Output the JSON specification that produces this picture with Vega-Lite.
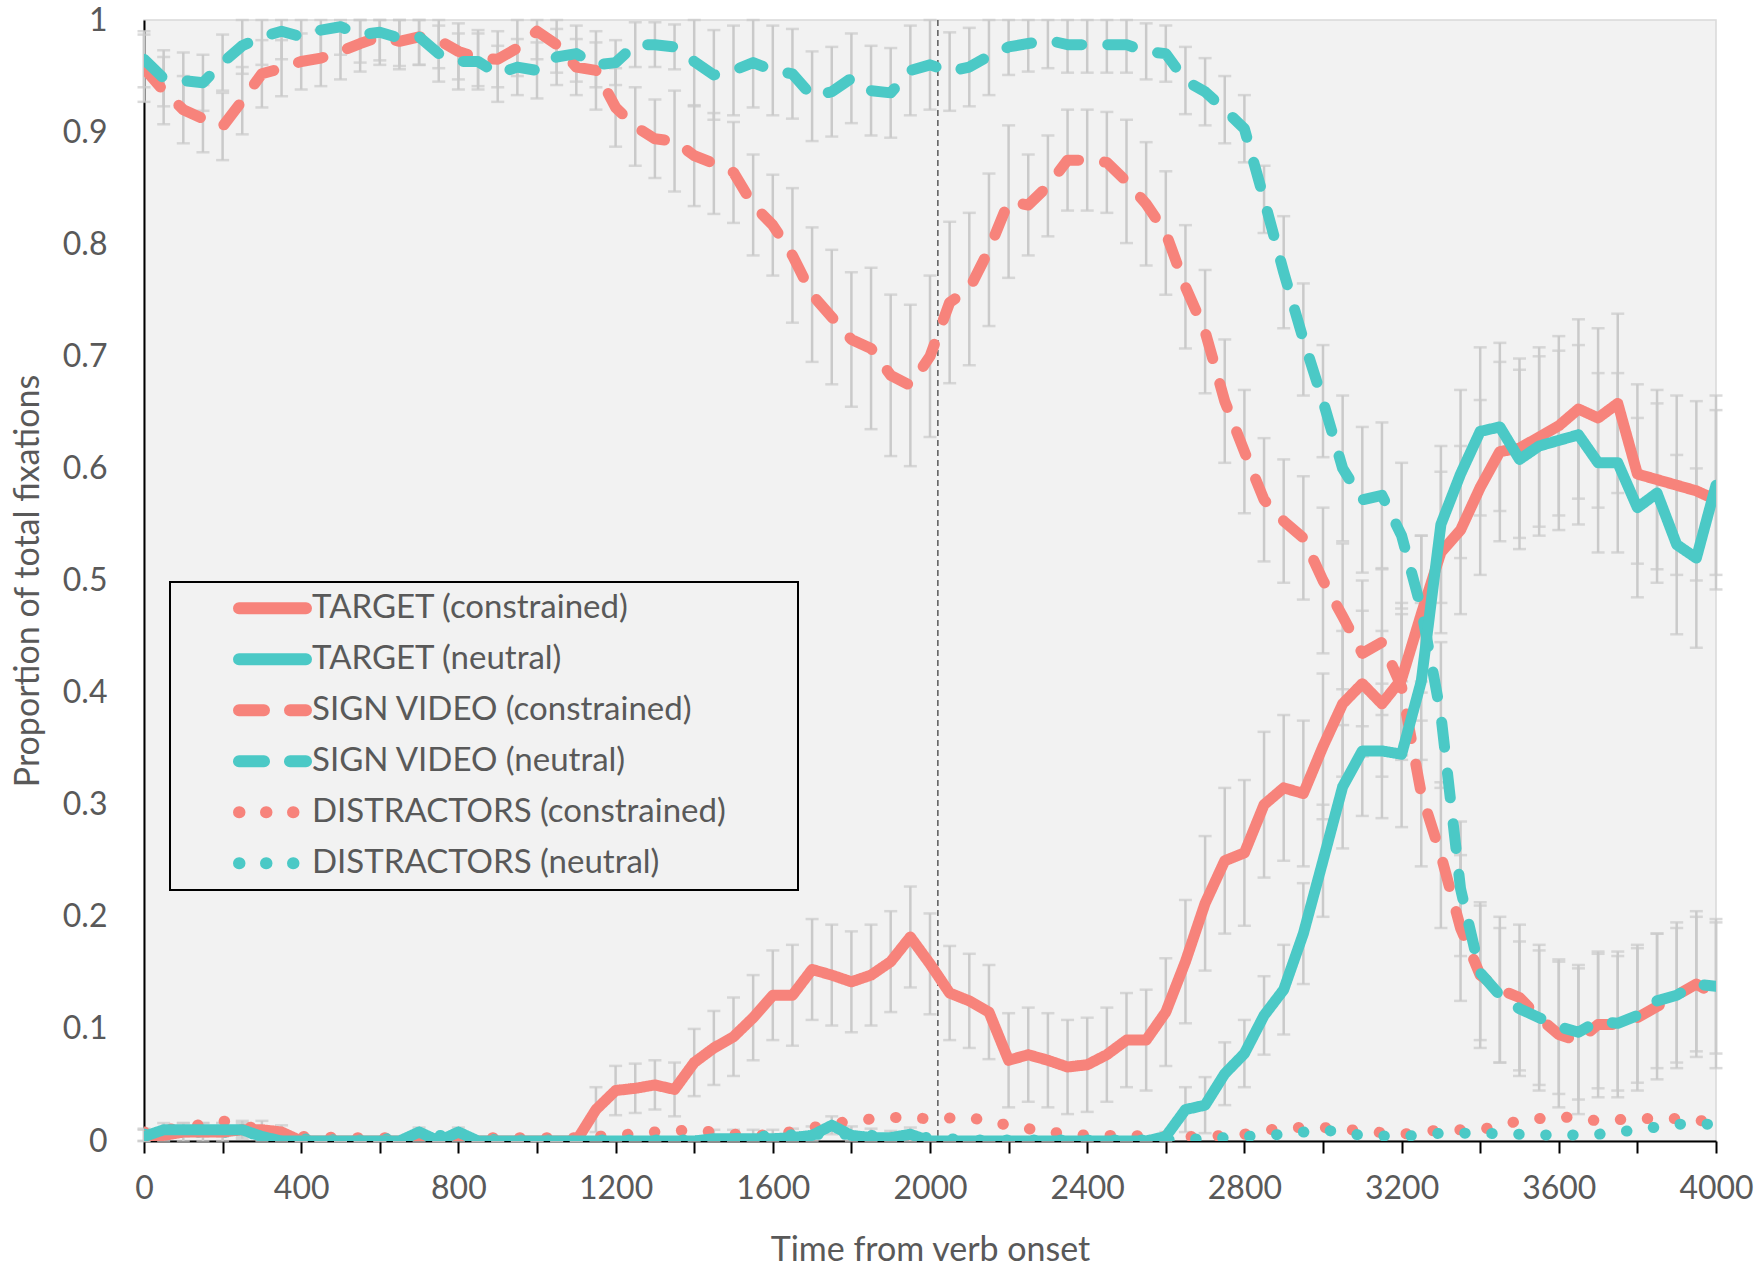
{
  "$schema": "https://vega.github.io/schema/vega-lite/v6.json",
  "autosize": {"type": "none"},
  "padding": {"left": 144, "top": 20, "right": 43, "bottom": 127},
  "width": 1572,
  "height": 1121,
  "background": "white",
  "config": {
    "font": "Lato",
    "view": {"fill": "#F2F2F2", "stroke": "#D9D9D9", "strokeWidth": 1.5},
    "axis": {"grid": false, "labelFontSize": 32, "labelColor": "#595959", "titleFontSize": 34, "titleColor": "#595959", "titleFontWeight": "normal", "domainColor": "black", "domainWidth": 2, "tickColor": "black", "tickWidth": 2},
    "legend": {
      "orient": "none", "legendX": 26, "legendY": 562,
      "titleOrient": "right", "titlePadding": 71, "titleFontSize": 32,
      "symbolType": "stroke", "symbolSize": 4489, "symbolStrokeWidth": 12, "symbolOffset": 62,
      "labelOffset": 0, "labelFontSize": 33, "labelFont": "Lato", "labelColor": "#595959", "labelLimit": 0,
      "clipHeight": 50.5, "rowPadding": 0, "padding": 1,
      "strokeColor": "black", "strokeWidth": 2, "fillColor": "#F2F2F2"
    }
  },
  "datasets": {
    "m": [{"t": 2020}],
    "d": [
{"t":0,"s":"dc","v":0.008},{"t":100,"s":"dc","v":0.012},{"t":200,"s":"dc","v":0.018},{"t":300,"s":"dc","v":0.01},{"t":400,"s":"dc","v":0.004},{"t":500,"s":"dc","v":0.003},{"t":600,"s":"dc","v":0.003},{"t":700,"s":"dc","v":0.003},{"t":800,"s":"dc","v":0.003},{"t":900,"s":"dc","v":0.003},{"t":1000,"s":"dc","v":0.003},{"t":1100,"s":"dc","v":0.003},{"t":1200,"s":"dc","v":0.005},{"t":1300,"s":"dc","v":0.008},{"t":1400,"s":"dc","v":0.01},{"t":1500,"s":"dc","v":0.006},{"t":1600,"s":"dc","v":0.005},{"t":1700,"s":"dc","v":0.012},{"t":1800,"s":"dc","v":0.018},{"t":1900,"s":"dc","v":0.021},{"t":2000,"s":"dc","v":0.02},{"t":2100,"s":"dc","v":0.021},{"t":2200,"s":"dc","v":0.014},{"t":2300,"s":"dc","v":0.008},{"t":2400,"s":"dc","v":0.005},{"t":2500,"s":"dc","v":0.005},{"t":2600,"s":"dc","v":0.004},{"t":2700,"s":"dc","v":0.004},{"t":2800,"s":"dc","v":0.006},{"t":2900,"s":"dc","v":0.012},{"t":3000,"s":"dc","v":0.012},{"t":3100,"s":"dc","v":0.009},{"t":3200,"s":"dc","v":0.006},{"t":3300,"s":"dc","v":0.01},{"t":3400,"s":"dc","v":0.01},{"t":3500,"s":"dc","v":0.018},{"t":3600,"s":"dc","v":0.022},{"t":3700,"s":"dc","v":0.018},{"t":3800,"s":"dc","v":0.02},{"t":3900,"s":"dc","v":0.02},{"t":4000,"s":"dc","v":0.017},
{"t":0,"s":"dn","v":0.006},{"t":100,"s":"dn","v":0.008},{"t":200,"s":"dn","v":0.008},{"t":300,"s":"dn","v":0.006},{"t":400,"s":"dn","v":0.002},{"t":500,"s":"dn","v":0.001},{"t":600,"s":"dn","v":0.001},{"t":700,"s":"dn","v":0.006},{"t":800,"s":"dn","v":0.004},{"t":900,"s":"dn","v":0.001},{"t":1000,"s":"dn","v":0.001},{"t":1100,"s":"dn","v":0.001},{"t":1200,"s":"dn","v":0.001},{"t":1300,"s":"dn","v":0.001},{"t":1400,"s":"dn","v":0.001},{"t":1500,"s":"dn","v":0.002},{"t":1600,"s":"dn","v":0.005},{"t":1700,"s":"dn","v":0.006},{"t":1800,"s":"dn","v":0.006},{"t":1900,"s":"dn","v":0.004},{"t":2000,"s":"dn","v":0.003},{"t":2100,"s":"dn","v":0.001},{"t":2200,"s":"dn","v":0.001},{"t":2300,"s":"dn","v":0.001},{"t":2400,"s":"dn","v":0.001},{"t":2500,"s":"dn","v":0.001},{"t":2600,"s":"dn","v":0.001},{"t":2700,"s":"dn","v":0.002},{"t":2800,"s":"dn","v":0.004},{"t":2900,"s":"dn","v":0.006},{"t":3000,"s":"dn","v":0.01},{"t":3100,"s":"dn","v":0.005},{"t":3200,"s":"dn","v":0.004},{"t":3300,"s":"dn","v":0.007},{"t":3400,"s":"dn","v":0.007},{"t":3500,"s":"dn","v":0.006},{"t":3600,"s":"dn","v":0.005},{"t":3700,"s":"dn","v":0.006},{"t":3800,"s":"dn","v":0.01},{"t":3900,"s":"dn","v":0.015},{"t":4000,"s":"dn","v":0.015},
{"t":0,"s":"sc","v":0.957,"e":0.03},{"t":50,"s":"sc","v":0.937,"e":0.03},{"t":100,"s":"sc","v":0.92,"e":0.03},{"t":150,"s":"sc","v":0.912,"e":0.03},{"t":200,"s":"sc","v":0.905,"e":0.03},{"t":250,"s":"sc","v":0.928,"e":0.03},{"t":300,"s":"sc","v":0.952,"e":0.03},{"t":350,"s":"sc","v":0.957,"e":0.025},{"t":400,"s":"sc","v":0.963,"e":0.025},{"t":450,"s":"sc","v":0.966,"e":0.025},{"t":500,"s":"sc","v":0.972,"e":0.025},{"t":550,"s":"sc","v":0.979,"e":0.025},{"t":600,"s":"sc","v":0.985,"e":0.025},{"t":650,"s":"sc","v":0.981,"e":0.025},{"t":700,"s":"sc","v":0.985,"e":0.025},{"t":750,"s":"sc","v":0.982,"e":0.025},{"t":800,"s":"sc","v":0.972,"e":0.025},{"t":850,"s":"sc","v":0.966,"e":0.025},{"t":900,"s":"sc","v":0.965,"e":0.025},{"t":950,"s":"sc","v":0.975,"e":0.025},{"t":1000,"s":"sc","v":0.99,"e":0.025},{"t":1050,"s":"sc","v":0.978,"e":0.025},{"t":1100,"s":"sc","v":0.958,"e":0.025},{"t":1150,"s":"sc","v":0.955,"e":0.035},{"t":1200,"s":"sc","v":0.922,"e":0.035},{"t":1250,"s":"sc","v":0.905,"e":0.035},{"t":1300,"s":"sc","v":0.894,"e":0.035},{"t":1350,"s":"sc","v":0.892,"e":0.045},{"t":1400,"s":"sc","v":0.879,"e":0.045},{"t":1450,"s":"sc","v":0.872,"e":0.045},{"t":1500,"s":"sc","v":0.864,"e":0.045},{"t":1550,"s":"sc","v":0.835,"e":0.045},{"t":1600,"s":"sc","v":0.817,"e":0.045},{"t":1650,"s":"sc","v":0.79,"e":0.06},{"t":1700,"s":"sc","v":0.755,"e":0.06},{"t":1750,"s":"sc","v":0.735,"e":0.06},{"t":1800,"s":"sc","v":0.715,"e":0.06},{"t":1850,"s":"sc","v":0.707,"e":0.072},{"t":1900,"s":"sc","v":0.683,"e":0.072},{"t":1950,"s":"sc","v":0.674,"e":0.072},{"t":2000,"s":"sc","v":0.7,"e":0.072},{"t":2050,"s":"sc","v":0.748,"e":0.072},{"t":2100,"s":"sc","v":0.76,"e":0.068},{"t":2150,"s":"sc","v":0.795,"e":0.068},{"t":2200,"s":"sc","v":0.838,"e":0.068},{"t":2250,"s":"sc","v":0.835,"e":0.045},{"t":2300,"s":"sc","v":0.852,"e":0.045},{"t":2350,"s":"sc","v":0.875,"e":0.045},{"t":2400,"s":"sc","v":0.875,"e":0.045},{"t":2450,"s":"sc","v":0.873,"e":0.045},{"t":2500,"s":"sc","v":0.856,"e":0.055},{"t":2550,"s":"sc","v":0.836,"e":0.055},{"t":2600,"s":"sc","v":0.81,"e":0.055},{"t":2650,"s":"sc","v":0.762,"e":0.055},{"t":2700,"s":"sc","v":0.722,"e":0.055},{"t":2750,"s":"sc","v":0.66,"e":0.055},{"t":2800,"s":"sc","v":0.615,"e":0.055},{"t":2850,"s":"sc","v":0.572,"e":0.055},{"t":2900,"s":"sc","v":0.553,"e":0.055},{"t":2950,"s":"sc","v":0.538,"e":0.055},{"t":3000,"s":"sc","v":0.5,"e":0.065},{"t":3050,"s":"sc","v":0.468,"e":0.065},{"t":3100,"s":"sc","v":0.435,"e":0.065},{"t":3150,"s":"sc","v":0.445,"e":0.065},{"t":3200,"s":"sc","v":0.405,"e":0.065},{"t":3250,"s":"sc","v":0.31,"e":0.065},{"t":3300,"s":"sc","v":0.255,"e":0.065},{"t":3350,"s":"sc","v":0.19,"e":0.065},{"t":3400,"s":"sc","v":0.148,"e":0.065},{"t":3450,"s":"sc","v":0.135,"e":0.065},{"t":3500,"s":"sc","v":0.128,"e":0.065},{"t":3550,"s":"sc","v":0.11,"e":0.065},{"t":3600,"s":"sc","v":0.095,"e":0.065},{"t":3650,"s":"sc","v":0.089,"e":0.065},{"t":3700,"s":"sc","v":0.104,"e":0.065},{"t":3750,"s":"sc","v":0.104,"e":0.065},{"t":3800,"s":"sc","v":0.11,"e":0.065},{"t":3850,"s":"sc","v":0.12,"e":0.065},{"t":3900,"s":"sc","v":0.13,"e":0.065},{"t":3950,"s":"sc","v":0.14,"e":0.065},{"t":4000,"s":"sc","v":0.13,"e":0.065},
{"t":0,"s":"tc","v":0.005,"e":0.006},{"t":50,"s":"tc","v":0.005,"e":0.006},{"t":100,"s":"tc","v":0.008,"e":0.008},{"t":150,"s":"tc","v":0.008,"e":0.008},{"t":200,"s":"tc","v":0.008,"e":0.008},{"t":250,"s":"tc","v":0.01,"e":0.008},{"t":300,"s":"tc","v":0.01,"e":0.008},{"t":350,"s":"tc","v":0.008,"e":0.006},{"t":400,"s":"tc","v":0,"e":0.002},{"t":450,"s":"tc","v":0,"e":0.002},{"t":500,"s":"tc","v":0,"e":0.002},{"t":550,"s":"tc","v":0,"e":0.002},{"t":600,"s":"tc","v":0,"e":0.002},{"t":650,"s":"tc","v":0,"e":0.002},{"t":700,"s":"tc","v":0,"e":0.002},{"t":750,"s":"tc","v":0,"e":0.002},{"t":800,"s":"tc","v":0,"e":0.002},{"t":850,"s":"tc","v":0,"e":0.002},{"t":900,"s":"tc","v":0,"e":0.002},{"t":950,"s":"tc","v":0,"e":0.002},{"t":1000,"s":"tc","v":0,"e":0.002},{"t":1050,"s":"tc","v":0,"e":0.002},{"t":1100,"s":"tc","v":0,"e":0.004},{"t":1150,"s":"tc","v":0.028,"e":0.02},{"t":1200,"s":"tc","v":0.045,"e":0.022},{"t":1250,"s":"tc","v":0.047,"e":0.022},{"t":1300,"s":"tc","v":0.05,"e":0.022},{"t":1350,"s":"tc","v":0.046,"e":0.024},{"t":1400,"s":"tc","v":0.07,"e":0.03},{"t":1450,"s":"tc","v":0.083,"e":0.033},{"t":1500,"s":"tc","v":0.093,"e":0.035},{"t":1550,"s":"tc","v":0.11,"e":0.038},{"t":1600,"s":"tc","v":0.13,"e":0.04},{"t":1650,"s":"tc","v":0.13,"e":0.045},{"t":1700,"s":"tc","v":0.153,"e":0.045},{"t":1750,"s":"tc","v":0.148,"e":0.045},{"t":1800,"s":"tc","v":0.142,"e":0.045},{"t":1850,"s":"tc","v":0.148,"e":0.045},{"t":1900,"s":"tc","v":0.16,"e":0.045},{"t":1950,"s":"tc","v":0.182,"e":0.045},{"t":2000,"s":"tc","v":0.158,"e":0.045},{"t":2050,"s":"tc","v":0.132,"e":0.042},{"t":2100,"s":"tc","v":0.125,"e":0.042},{"t":2150,"s":"tc","v":0.115,"e":0.042},{"t":2200,"s":"tc","v":0.072,"e":0.042},{"t":2250,"s":"tc","v":0.077,"e":0.042},{"t":2300,"s":"tc","v":0.072,"e":0.042},{"t":2350,"s":"tc","v":0.066,"e":0.042},{"t":2400,"s":"tc","v":0.068,"e":0.042},{"t":2450,"s":"tc","v":0.077,"e":0.042},{"t":2500,"s":"tc","v":0.09,"e":0.042},{"t":2550,"s":"tc","v":0.09,"e":0.045},{"t":2600,"s":"tc","v":0.115,"e":0.048},{"t":2650,"s":"tc","v":0.16,"e":0.055},{"t":2700,"s":"tc","v":0.212,"e":0.06},{"t":2750,"s":"tc","v":0.25,"e":0.065},{"t":2800,"s":"tc","v":0.257,"e":0.065},{"t":2850,"s":"tc","v":0.3,"e":0.065},{"t":2900,"s":"tc","v":0.315,"e":0.065},{"t":2950,"s":"tc","v":0.31,"e":0.065},{"t":3000,"s":"tc","v":0.352,"e":0.065},{"t":3050,"s":"tc","v":0.39,"e":0.065},{"t":3100,"s":"tc","v":0.408,"e":0.065},{"t":3150,"s":"tc","v":0.39,"e":0.065},{"t":3200,"s":"tc","v":0.412,"e":0.068},{"t":3250,"s":"tc","v":0.47,"e":0.07},{"t":3300,"s":"tc","v":0.525,"e":0.072},{"t":3350,"s":"tc","v":0.545,"e":0.075},{"t":3400,"s":"tc","v":0.583,"e":0.078},{"t":3450,"s":"tc","v":0.615,"e":0.08},{"t":3500,"s":"tc","v":0.618,"e":0.08},{"t":3550,"s":"tc","v":0.628,"e":0.08},{"t":3600,"s":"tc","v":0.638,"e":0.08},{"t":3650,"s":"tc","v":0.653,"e":0.08},{"t":3700,"s":"tc","v":0.645,"e":0.08},{"t":3750,"s":"tc","v":0.658,"e":0.08},{"t":3800,"s":"tc","v":0.595,"e":0.08},{"t":3850,"s":"tc","v":0.59,"e":0.08},{"t":3900,"s":"tc","v":0.585,"e":0.08},{"t":3950,"s":"tc","v":0.58,"e":0.08},{"t":4000,"s":"tc","v":0.572,"e":0.08},
{"t":0,"s":"sn","v":0.965,"e":0.025},{"t":50,"s":"sn","v":0.948,"e":0.025},{"t":100,"s":"sn","v":0.946,"e":0.025},{"t":150,"s":"sn","v":0.944,"e":0.025},{"t":200,"s":"sn","v":0.962,"e":0.025},{"t":250,"s":"sn","v":0.977,"e":0.025},{"t":300,"s":"sn","v":0.985,"e":0.025},{"t":350,"s":"sn","v":0.99,"e":0.025},{"t":400,"s":"sn","v":0.985,"e":0.025},{"t":450,"s":"sn","v":0.991,"e":0.025},{"t":500,"s":"sn","v":0.994,"e":0.025},{"t":550,"s":"sn","v":0.987,"e":0.025},{"t":600,"s":"sn","v":0.989,"e":0.025},{"t":650,"s":"sn","v":0.984,"e":0.025},{"t":700,"s":"sn","v":0.985,"e":0.025},{"t":750,"s":"sn","v":0.97,"e":0.025},{"t":800,"s":"sn","v":0.963,"e":0.025},{"t":850,"s":"sn","v":0.963,"e":0.025},{"t":900,"s":"sn","v":0.952,"e":0.025},{"t":950,"s":"sn","v":0.958,"e":0.025},{"t":1000,"s":"sn","v":0.955,"e":0.025},{"t":1050,"s":"sn","v":0.967,"e":0.025},{"t":1100,"s":"sn","v":0.97,"e":0.025},{"t":1150,"s":"sn","v":0.96,"e":0.02},{"t":1200,"s":"sn","v":0.962,"e":0.02},{"t":1250,"s":"sn","v":0.978,"e":0.02},{"t":1300,"s":"sn","v":0.978,"e":0.02},{"t":1350,"s":"sn","v":0.976,"e":0.02},{"t":1400,"s":"sn","v":0.963,"e":0.04},{"t":1450,"s":"sn","v":0.951,"e":0.04},{"t":1500,"s":"sn","v":0.955,"e":0.04},{"t":1550,"s":"sn","v":0.962,"e":0.04},{"t":1600,"s":"sn","v":0.955,"e":0.04},{"t":1650,"s":"sn","v":0.952,"e":0.04},{"t":1700,"s":"sn","v":0.932,"e":0.04},{"t":1750,"s":"sn","v":0.936,"e":0.04},{"t":1800,"s":"sn","v":0.948,"e":0.04},{"t":1850,"s":"sn","v":0.937,"e":0.04},{"t":1900,"s":"sn","v":0.935,"e":0.04},{"t":1950,"s":"sn","v":0.955,"e":0.04},{"t":2000,"s":"sn","v":0.96,"e":0.04},{"t":2050,"s":"sn","v":0.954,"e":0.035},{"t":2100,"s":"sn","v":0.958,"e":0.035},{"t":2150,"s":"sn","v":0.968,"e":0.035},{"t":2200,"s":"sn","v":0.976,"e":0.025},{"t":2250,"s":"sn","v":0.979,"e":0.025},{"t":2300,"s":"sn","v":0.982,"e":0.025},{"t":2350,"s":"sn","v":0.978,"e":0.025},{"t":2400,"s":"sn","v":0.978,"e":0.025},{"t":2450,"s":"sn","v":0.978,"e":0.025},{"t":2500,"s":"sn","v":0.978,"e":0.025},{"t":2550,"s":"sn","v":0.972,"e":0.025},{"t":2600,"s":"sn","v":0.97,"e":0.025},{"t":2650,"s":"sn","v":0.946,"e":0.03},{"t":2700,"s":"sn","v":0.936,"e":0.03},{"t":2750,"s":"sn","v":0.92,"e":0.03},{"t":2800,"s":"sn","v":0.903,"e":0.03},{"t":2850,"s":"sn","v":0.84,"e":0.03},{"t":2900,"s":"sn","v":0.775,"e":0.05},{"t":2950,"s":"sn","v":0.715,"e":0.05},{"t":3000,"s":"sn","v":0.66,"e":0.05},{"t":3050,"s":"sn","v":0.6,"e":0.065},{"t":3100,"s":"sn","v":0.572,"e":0.065},{"t":3150,"s":"sn","v":0.576,"e":0.065},{"t":3200,"s":"sn","v":0.54,"e":0.065},{"t":3250,"s":"sn","v":0.475,"e":0.065},{"t":3300,"s":"sn","v":0.38,"e":0.065},{"t":3350,"s":"sn","v":0.225,"e":0.06},{"t":3400,"s":"sn","v":0.15,"e":0.06},{"t":3450,"s":"sn","v":0.13,"e":0.06},{"t":3500,"s":"sn","v":0.118,"e":0.06},{"t":3550,"s":"sn","v":0.11,"e":0.06},{"t":3600,"s":"sn","v":0.102,"e":0.06},{"t":3650,"s":"sn","v":0.097,"e":0.06},{"t":3700,"s":"sn","v":0.107,"e":0.06},{"t":3750,"s":"sn","v":0.105,"e":0.06},{"t":3800,"s":"sn","v":0.112,"e":0.06},{"t":3850,"s":"sn","v":0.125,"e":0.06},{"t":3900,"s":"sn","v":0.13,"e":0.06},{"t":3950,"s":"sn","v":0.14,"e":0.06},{"t":4000,"s":"sn","v":0.138,"e":0.06},
{"t":0,"s":"tn","v":0.004,"e":0.006},{"t":50,"s":"tn","v":0.01,"e":0.006},{"t":100,"s":"tn","v":0.01,"e":0.006},{"t":150,"s":"tn","v":0.01,"e":0.006},{"t":200,"s":"tn","v":0.01,"e":0.006},{"t":250,"s":"tn","v":0.01,"e":0.006},{"t":300,"s":"tn","v":0.004,"e":0.006},{"t":350,"s":"tn","v":0,"e":0.002},{"t":400,"s":"tn","v":0,"e":0.002},{"t":450,"s":"tn","v":0,"e":0.002},{"t":500,"s":"tn","v":0,"e":0.002},{"t":550,"s":"tn","v":0,"e":0.002},{"t":600,"s":"tn","v":0,"e":0.002},{"t":650,"s":"tn","v":0,"e":0.002},{"t":700,"s":"tn","v":0.008,"e":0.004},{"t":750,"s":"tn","v":0,"e":0.002},{"t":800,"s":"tn","v":0.008,"e":0.004},{"t":850,"s":"tn","v":0,"e":0.002},{"t":900,"s":"tn","v":0,"e":0.002},{"t":950,"s":"tn","v":0,"e":0.002},{"t":1000,"s":"tn","v":0,"e":0.002},{"t":1050,"s":"tn","v":0,"e":0.002},{"t":1100,"s":"tn","v":0,"e":0.002},{"t":1150,"s":"tn","v":0,"e":0.002},{"t":1200,"s":"tn","v":0,"e":0.002},{"t":1250,"s":"tn","v":0,"e":0.002},{"t":1300,"s":"tn","v":0,"e":0.002},{"t":1350,"s":"tn","v":0,"e":0.002},{"t":1400,"s":"tn","v":0,"e":0.002},{"t":1450,"s":"tn","v":0.002,"e":0.008},{"t":1500,"s":"tn","v":0.002,"e":0.008},{"t":1550,"s":"tn","v":0.002,"e":0.008},{"t":1600,"s":"tn","v":0.002,"e":0.008},{"t":1650,"s":"tn","v":0.003,"e":0.008},{"t":1700,"s":"tn","v":0.005,"e":0.008},{"t":1750,"s":"tn","v":0.014,"e":0.008},{"t":1800,"s":"tn","v":0.005,"e":0.008},{"t":1850,"s":"tn","v":0.003,"e":0.008},{"t":1900,"s":"tn","v":0.003,"e":0.006},{"t":1950,"s":"tn","v":0.006,"e":0.006},{"t":2000,"s":"tn","v":0,"e":0.002},{"t":2050,"s":"tn","v":0,"e":0.002},{"t":2100,"s":"tn","v":0,"e":0.002},{"t":2150,"s":"tn","v":0,"e":0.002},{"t":2200,"s":"tn","v":0,"e":0.002},{"t":2250,"s":"tn","v":0,"e":0.002},{"t":2300,"s":"tn","v":0,"e":0.002},{"t":2350,"s":"tn","v":0,"e":0.002},{"t":2400,"s":"tn","v":0,"e":0.002},{"t":2450,"s":"tn","v":0,"e":0.002},{"t":2500,"s":"tn","v":0,"e":0.002},{"t":2550,"s":"tn","v":0,"e":0.002},{"t":2600,"s":"tn","v":0.004,"e":0.004},{"t":2650,"s":"tn","v":0.028,"e":0.02},{"t":2700,"s":"tn","v":0.032,"e":0.025},{"t":2750,"s":"tn","v":0.06,"e":0.028},{"t":2800,"s":"tn","v":0.078,"e":0.03},{"t":2850,"s":"tn","v":0.112,"e":0.035},{"t":2900,"s":"tn","v":0.135,"e":0.04},{"t":2950,"s":"tn","v":0.185,"e":0.045},{"t":3000,"s":"tn","v":0.25,"e":0.05},{"t":3050,"s":"tn","v":0.316,"e":0.055},{"t":3100,"s":"tn","v":0.348,"e":0.058},{"t":3150,"s":"tn","v":0.348,"e":0.06},{"t":3200,"s":"tn","v":0.345,"e":0.065},{"t":3250,"s":"tn","v":0.41,"e":0.07},{"t":3300,"s":"tn","v":0.55,"e":0.07},{"t":3350,"s":"tn","v":0.595,"e":0.075},{"t":3400,"s":"tn","v":0.633,"e":0.075},{"t":3450,"s":"tn","v":0.637,"e":0.075},{"t":3500,"s":"tn","v":0.608,"e":0.08},{"t":3550,"s":"tn","v":0.62,"e":0.08},{"t":3600,"s":"tn","v":0.625,"e":0.08},{"t":3650,"s":"tn","v":0.63,"e":0.08},{"t":3700,"s":"tn","v":0.605,"e":0.08},{"t":3750,"s":"tn","v":0.605,"e":0.08},{"t":3800,"s":"tn","v":0.565,"e":0.08},{"t":3850,"s":"tn","v":0.578,"e":0.08},{"t":3900,"s":"tn","v":0.532,"e":0.08},{"t":3950,"s":"tn","v":0.52,"e":0.08},{"t":4000,"s":"tn","v":0.585,"e":0.08}
    ]
  },
  "layer": [
    {
      "data": {"name": "d"},
      "transform": [{"filter": {"field": "s", "oneOf": ["tc", "tn", "sc", "sn"]}}],
      "mark": {"type": "errorbar", "ticks": true, "size": 13, "thickness": 2.5, "color": "#CACACA"},
      "encoding": {
        "x": {"field": "t", "type": "quantitative", "title": "Time from verb onset", "scale": {"domain": [0, 4000], "nice": false}},
        "y": {"field": "v", "type": "quantitative", "title": "Proportion of total fixations", "scale": {"domain": [0, 1], "clamp": true, "nice": false}},
        "yError": {"field": "e"}
      }
    },
    {
      "data": {"name": "m"},
      "mark": {"type": "rule", "color": "#595959", "strokeWidth": 1.5, "strokeDash": [6, 4]},
      "encoding": {"x": {"field": "t", "type": "quantitative", "title": "Time from verb onset"}}
    },
    {
      "data": {"name": "d"},
      "mark": {"type": "line", "strokeWidth": 11, "strokeCap": "round", "strokeJoin": "round", "clip": true},
      "encoding": {
        "x": {
          "field": "t", "type": "quantitative", "title": "Time from verb onset",
          "axis": {
            "titlePadding": 29,
            "values": [0,100,200,300,400,500,600,700,800,900,1000,1100,1200,1300,1400,1500,1600,1700,1800,1900,2000,2100,2200,2300,2400,2500,2600,2700,2800,2900,3000,3100,3200,3300,3400,3500,3600,3700,3800,3900,4000],
            "format": "d", "labelExpr": "datum.value % 400 === 0 ? datum.label : ''",
            "tickSize": 12, "labelPadding": 20, "labelFlush": false, "labelOverlap": false
          }
        },
        "y": {
          "field": "v", "type": "quantitative", "title": "Proportion of total fixations",
          "axis": {
            "titlePadding": 17,
            "values": [0, 0.1, 0.2, 0.3, 0.4, 0.5, 0.6, 0.7, 0.8, 0.9, 1],
            "format": "~g", "ticks": false, "tickSize": 0, "labelPadding": 37
          }
        },
        "color": {
          "field": "s", "type": "nominal",
          "scale": {"domain": ["tc", "tn", "sc", "sn", "dc", "dn"], "range": ["#F7837B", "#4BC9C6", "#F7837B", "#4BC9C6", "#F7837B", "#4BC9C6"]},
          "legend": {
            "title": "\u00a0",
            "labelExpr": "{'tc': 'TARGET (constrained)', 'tn': 'TARGET (neutral)', 'sc': 'SIGN VIDEO (constrained)', 'sn': 'SIGN VIDEO (neutral)', 'dc': 'DISTRACTORS (constrained)', 'dn': 'DISTRACTORS (neutral)'}[datum.label]",
            "encoding": {"symbols": {"strokeCap": {"value": "round"}}}
          }
        },
        "strokeDash": {
          "field": "s", "type": "nominal",
          "scale": {"domain": ["tc", "tn", "sc", "sn", "dc", "dn"], "range": [[1, 0], [1, 0], [25, 26], [25, 26], [0.5, 26.5], [0.5, 26.5]]},
          "legend": {
            "title": "\u00a0",
            "labelExpr": "{'tc': 'TARGET (constrained)', 'tn': 'TARGET (neutral)', 'sc': 'SIGN VIDEO (constrained)', 'sn': 'SIGN VIDEO (neutral)', 'dc': 'DISTRACTORS (constrained)', 'dn': 'DISTRACTORS (neutral)'}[datum.label]",
            "encoding": {"symbols": {"strokeCap": {"value": "round"}}}
          }
        }
      }
    }
  ]
}
